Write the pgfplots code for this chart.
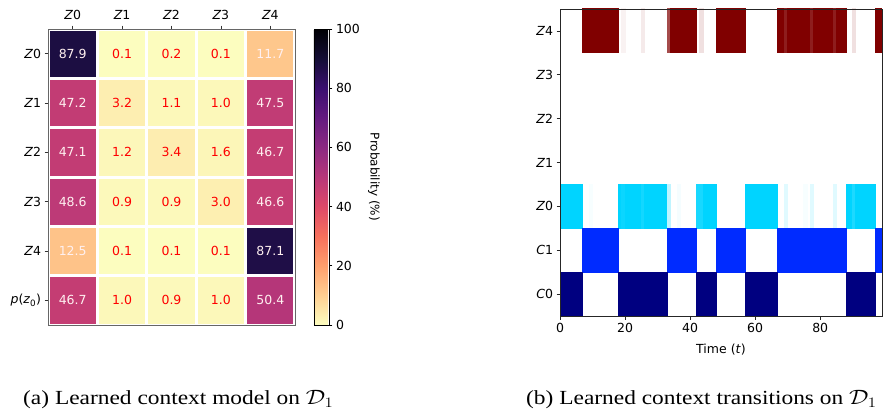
\documentclass[border=0pt]{standalone}
\usepackage{fontspec}
\setmainfont{DejaVu Sans}
\newfontfamily\capfont{Liberation Serif}
\usepackage{graphicx}
\usepackage{pgfplots}
\usepackage{pgfplotstable}
\pgfplotsset{compat=1.18}

\pgfplotsset{
  colormap={magmar}{rgb255=(252,253,191) rgb255=(254,207,146) rgb255=(254,159,109) rgb255=(247,112,92) rgb255=(222,73,104) rgb255=(183,55,121) rgb255=(140,41,129) rgb255=(100,26,128) rgb255=(59,15,112) rgb255=(20,14,54) rgb255=(0,0,4)},
  colormap={cmCzero}{rgb255=(255,255,255) rgb255=(0,0,128)},
  colormap={cmCone}{rgb255=(255,255,255) rgb255=(0,43,255)},
  colormap={cmZzero}{rgb255=(255,255,255) rgb255=(0,212,255)},
  colormap={cmZfour}{rgb255=(255,255,255) rgb255=(128,0,0)},
  /pgf/number format/assume math mode=true,
  every tick label/.append style={font=\fontsize{12.5}{14}\selectfont},
  every axis label/.append style={font=\fontsize{12.5}{14}\selectfont},
}

% heatmap values: rows Z0..Z4, p(z0); columns Z0..Z4
\pgfplotstableread{
x y c
0 0 87.9
1 0 0.1
2 0 0.2
3 0 0.1
4 0 11.7
0 1 47.2
1 1 3.2
2 1 1.1
3 1 1.0
4 1 47.5
0 2 47.1
1 2 1.2
2 2 3.4
3 2 1.6
4 2 46.7
0 3 48.6
1 3 0.9
2 3 0.9
3 3 3.0
4 3 46.6
0 4 12.5
1 4 0.1
2 4 0.1
3 4 0.1
4 4 87.1
0 5 46.7
1 5 1.0
2 5 0.9
3 5 1.0
4 5 50.4
}\heat

\pgfplotstableread{
x y lab
0 0 87.9
4 0 11.7
0 1 47.2
4 1 47.5
0 2 47.1
4 2 46.7
0 3 48.6
4 3 46.6
0 4 12.5
4 4 87.1
0 5 46.7
4 5 50.4
}\hilab

\pgfplotstableread{
x y lab
1 0 0.1
2 0 0.2
3 0 0.1
1 1 3.2
2 1 1.1
3 1 1.0
1 2 1.2
2 2 3.4
3 2 1.6
1 3 0.9
2 3 0.9
3 3 3.0
1 4 0.1
2 4 0.1
3 4 0.1
1 5 1.0
2 5 0.9
3 5 1.0
}\lolab

% context rows: rectangles (4 corners each), c = probability
\pgfplotstableread{
x y c
0 -0.5 1
7 -0.5 1
7 0.5 1
0 0.5 1
18 -0.5 1
33 -0.5 1
33 0.5 1
18 0.5 1
42 -0.5 1
48 -0.5 1
48 0.5 1
42 0.5 1
57 -0.5 1
67 -0.5 1
67 0.5 1
57 0.5 1
88 -0.5 1
97 -0.5 1
97 0.5 1
88 0.5 1
}\czero

\pgfplotstableread{
x y c
7 0.5 1
18 0.5 1
18 1.5 1
7 1.5 1
33 0.5 1
42 0.5 1
42 1.5 1
33 1.5 1
48 0.5 1
57 0.5 1
57 1.5 1
48 1.5 1
67 0.5 1
88 0.5 1
88 1.5 1
67 1.5 1
97 0.5 1
99 0.5 1
99 1.5 1
97 1.5 1
}\cone

\pgfplotstableread{
x y c
0 1.5 1
7 1.5 1
7 2.5 1
0 2.5 1
9 1.5 0.03
10 1.5 0.03
10 2.5 0.03
9 2.5 0.03
18 1.5 1
19 1.5 1
19 2.5 1
18 2.5 1
19 1.5 0.95
20 1.5 0.95
20 2.5 0.95
19 2.5 0.95
20 1.5 1
25 1.5 1
25 2.5 1
20 2.5 1
25 1.5 0.92
26 1.5 0.92
26 2.5 0.92
25 2.5 0.92
26 1.5 1
33 1.5 1
33 2.5 1
26 2.5 1
33 1.5 0.25
34 1.5 0.25
34 2.5 0.25
33 2.5 0.25
36 1.5 0.04
37 1.5 0.04
37 2.5 0.04
36 2.5 0.04
42 1.5 0.9
44 1.5 0.9
44 2.5 0.9
42 2.5 0.9
44 1.5 1
48 1.5 1
48 2.5 1
44 2.5 1
57 1.5 1
67 1.5 1
67 2.5 1
57 2.5 1
69 1.5 0.12
70 1.5 0.12
70 2.5 0.12
69 2.5 0.12
75 1.5 0.03
76 1.5 0.03
76 2.5 0.03
75 2.5 0.03
77 1.5 0.12
78 1.5 0.12
78 2.5 0.12
77 2.5 0.12
84 1.5 0.12
85 1.5 0.12
85 2.5 0.12
84 2.5 0.12
88 1.5 1
90 1.5 1
90 2.5 1
88 2.5 1
90 1.5 0.88
91 1.5 0.88
91 2.5 0.88
90 2.5 0.88
91 1.5 1
97 1.5 1
97 2.5 1
91 2.5 1
}\zzero

\pgfplotstableread{
x y c
7 5.5 1
18 5.5 1
18 6.5 1
7 6.5 1
19 5.5 0.05
20 5.5 0.05
20 6.5 0.05
19 6.5 0.05
25 5.5 0.08
26 5.5 0.08
26 6.5 0.08
25 6.5 0.08
33 5.5 0.7
34 5.5 0.7
34 6.5 0.7
33 6.5 0.7
34 5.5 1
42 5.5 1
42 6.5 1
34 6.5 1
43 5.5 0.12
44 5.5 0.12
44 6.5 0.12
43 6.5 0.12
48 5.5 1
57 5.5 1
57 6.5 1
48 6.5 1
67 5.5 1
69 5.5 1
69 6.5 1
67 6.5 1
69 5.5 0.88
70 5.5 0.88
70 6.5 0.88
69 6.5 0.88
70 5.5 1
77 5.5 1
77 6.5 1
70 6.5 1
77 5.5 0.88
78 5.5 0.88
78 6.5 0.88
77 6.5 0.88
78 5.5 1
84 5.5 1
84 6.5 1
78 6.5 1
84 5.5 0.88
85 5.5 0.88
85 6.5 0.88
84 6.5 0.88
85 5.5 1
88 5.5 1
88 6.5 1
85 6.5 1
90 5.5 0.12
91 5.5 0.12
91 6.5 0.12
90 6.5 0.12
97 5.5 1
99 5.5 1
99 6.5 1
97 6.5 1
}\zfour

\begin{document}
\begin{tikzpicture}
\useasboundingbox (0,0) rectangle (886pt,410pt);

% ---------------- (a) heatmap ----------------
\begin{axis}[
  at={(48pt,85pt)}, anchor=south west,
  scale only axis, width=247pt, height=296pt,
  xmin=-0.5, xmax=4.5, ymin=-0.5, ymax=5.5,
  y dir=reverse,
  enlargelimits=false,
  axis on top,
  xtick={0,1,2,3,4},
  xticklabels={{\itshape Z}0,{\itshape Z}1,{\itshape Z}2,{\itshape Z}3,{\itshape Z}4},
  ytick={0,1,2,3,4,5},
  yticklabels={{\itshape Z}0,{\itshape Z}1,{\itshape Z}2,{\itshape Z}3,{\itshape Z}4,{\itshape p}({\itshape z}\textsubscript{0})},
  xtick pos=upper, xticklabel pos=upper,
  ytick pos=left,
  tick align=outside,
  major tick length=3.5pt,
  minor xtick={-0.5,0.5,1.5,2.5,3.5,4.5},
  minor ytick={-0.5,0.5,1.5,2.5,3.5,4.5,5.5},
  minor tick length=0pt,
  xminorgrids, yminorgrids,
  minor grid style={white, line width=3pt},
  axis line style={black!60, line width=0.8pt},
  tick style={black!80, line width=0.7pt},
  xticklabel style={yshift=2pt},
  colormap name=magmar,
  point meta min=0, point meta max=100,
  colorbar,
  colorbar shift/.style={xshift=19pt},
  colorbar style={
    at={(parent axis.north east)}, anchor=north west,
    width=15pt,
    ytick={0,20,40,60,80,100},
    ytick pos=right, yticklabel pos=right,
    tick align=outside,
    major tick length=3.5pt,
    axis line style={black, line width=0.7pt},
    tick style={black, line width=0.7pt},
    ylabel={Probability (\%)},
    every axis y label/.style={at={(axis description cs:3.6,0.5)}, rotate=-90, anchor=south, inner sep=0pt, font=\fontsize{12}{14}\selectfont},
  },
]
\addplot[matrix plot*, mesh/cols=5, point meta=explicit] table[meta=c] {\heat};
\addplot[draw=none, mark=none, nodes near coords, nodes near coords align=center,
  point meta=explicit symbolic,
  every node near coord/.append style={text=white!94!red, font=\fontsize{12.5}{14}\selectfont}]
  table[meta=lab] {\hilab};
\addplot[draw=none, mark=none, nodes near coords, nodes near coords align=center,
  point meta=explicit symbolic,
  every node near coord/.append style={text=red, font=\fontsize{12.5}{14}\selectfont}]
  table[meta=lab] {\lolab};
\end{axis}

% ---------------- (b) context transitions ----------------
\begin{axis}[
  at={(560pt,94pt)}, anchor=south west,
  scale only axis, width=322pt, height=307pt,
  xmin=0, xmax=99, ymin=-0.5, ymax=6.5,
  enlargelimits=false,
  axis on top,
  xtick={0,20,40,60,80},
  ytick={0,1,2,3,4,5,6},
  yticklabels={{\itshape C}0,{\itshape C}1,{\itshape Z}0,{\itshape Z}1,{\itshape Z}2,{\itshape Z}3,{\itshape Z}4},
  xtick pos=lower, ytick pos=left,
  tick align=outside,
  major tick length=3.5pt,
  axis line style={black!85, line width=0.8pt},
  tick style={black!85, line width=0.7pt},
  xlabel={Time (\textit{t})},
  xlabel style={yshift=-5pt},
  point meta min=0, point meta max=1,
]
\addplot[patch, patch type=rectangle, shader=flat, line width=0pt, colormap name=cmZfour, point meta=explicit] table[meta=c] {\zfour};
\addplot[patch, patch type=rectangle, shader=flat, line width=0pt, colormap name=cmZzero, point meta=explicit] table[meta=c] {\zzero};
\addplot[patch, patch type=rectangle, shader=flat, line width=0pt, colormap name=cmCone, point meta=explicit] table[meta=c] {\cone};
\addplot[patch, patch type=rectangle, shader=flat, line width=0pt, colormap name=cmCzero, point meta=explicit] table[meta=c] {\czero};
\end{axis}

% ---------------- captions ----------------
\node[anchor=base west, inner sep=0pt] at (23pt,6pt)
  {\scalebox{1.17}[1]{\capfont\fontsize{20}{24}\selectfont (a) Learned context model on $\mathcal{D}_1$}};
\node[anchor=base west, inner sep=0pt] at (526pt,6pt)
  {\scalebox{1.17}[1]{\capfont\fontsize{20}{24}\selectfont (b) Learned context transitions on $\mathcal{D}_1$}};
\end{tikzpicture}
\end{document}
